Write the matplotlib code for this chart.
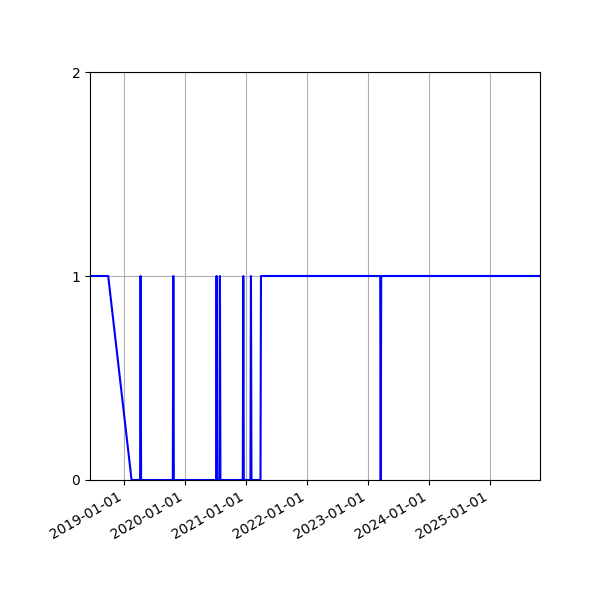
import matplotlib
matplotlib.use("Agg")
import matplotlib.pyplot as plt
import matplotlib.dates as mdates
import numpy as np

# dates and 0/1 status
dates = [
    "2018-06-10", "2018-09-27", "2019-02-14",
    "2019-04-06", "2019-04-09", "2019-04-12",
    "2019-10-19", "2019-10-22", "2019-10-25",
    "2020-07-04", "2020-07-07", "2020-07-10",
    "2020-07-24", "2020-07-27", "2020-07-30",
    "2020-12-11", "2020-12-14", "2020-12-17",
    "2021-01-26", "2021-01-29", "2021-02-01",
    "2021-03-27", "2021-03-30",
    "2023-03-14", "2023-03-17", "2023-03-20",
    "2025-10-26",
]
status = [
    1, 1, 0,
    0, 1, 0,
    0, 1, 0,
    0, 1, 0,
    0, 1, 0,
    0, 1, 0,
    0, 1, 0,
    0, 1,
    1, 0, 1,
    1,
]
yticks = [0, 1, 2]

x = np.array(dates, dtype="datetime64[D]")

fig, ax = plt.subplots(figsize=(6, 6), dpi=100)
fig.subplots_adjust(left=0.15, right=0.9, top=0.88, bottom=0.2)

ax.plot(x, status, color="blue", linewidth=1.5)
ax.set_xlim(x[0], x[-1])
ax.set_ylim(0, 2)
ax.set_yticks(yticks)
ax.xaxis.set_major_locator(mdates.YearLocator())
ax.xaxis.set_major_formatter(mdates.DateFormatter("%Y-%m-%d"))
ax.grid(True)
for lab in ax.get_xticklabels():
    lab.set_rotation(30)
    lab.set_ha("right")

fig.savefig("out.png")
